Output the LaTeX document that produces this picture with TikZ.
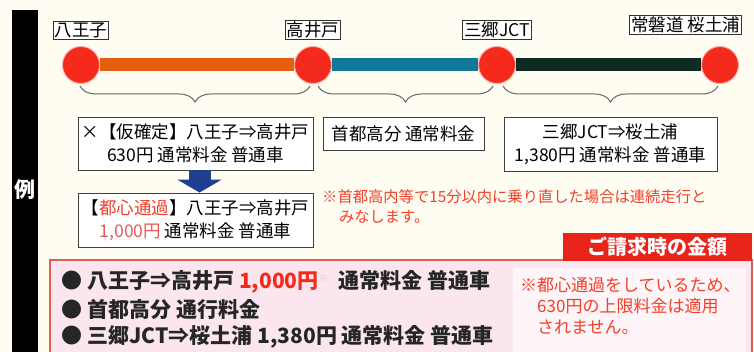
\documentclass[tikz,border=0pt]{standalone}
\usepackage{fontspec}
\usepackage{tikz}
\usetikzlibrary{positioning,decorations.pathreplacing,arrows.meta}
\setmainfont{Noto Sans CJK JP}

\definecolor{cream}{HTML}{FFFDF2}
\definecolor{stnred}{HTML}{F42A1C}
\definecolor{lineor}{HTML}{E4600E}
\definecolor{lineteal}{HTML}{11789A}
\definecolor{linedark}{HTML}{0E2A22}
\definecolor{arrblue}{HTML}{1E3F8F}
\definecolor{notered}{HTML}{F0402A}
\definecolor{tabred}{HTML}{E8231A}
\definecolor{pinkfill}{HTML}{FBE6EF}
\definecolor{pinkline}{HTML}{E0604A}
\definecolor{softred}{HTML}{E85A5A}

\tikzset{
  stn/.style={draw=black!80, fill=white, line width=0.8pt, inner sep=1.5pt, font=\fontsize{17.5}{19}\selectfont},
  dot/.style={circle, fill=stnred, draw=stnred!40, line width=1pt, minimum size=37pt, inner sep=0pt},
  seg/.style={line width=13pt},
  brc/.style={decorate, decoration={brace, mirror, amplitude=16pt}, draw=black!60, line width=1pt},
  info/.style={draw=black!75, fill=white, line width=0.9pt, align=center, inner sep=1pt, font=\fontsize{17.5}{23}\selectfont},
  bul/.style={anchor=west, font=\fontsize{21}{22}\selectfont\bfseries, text=black!85}
}

\begin{document}
\begin{tikzpicture}[x=1pt, y=-1pt]
\useasboundingbox (0,0) rectangle (754,352);
\fill[cream] (0,0) rectangle (754,352);
\fill[black] (12,10) rectangle (38,352);
\node[text=white, font=\fontsize{21}{21}\selectfont\bfseries] (rei) at (25,190) {例};

\node[dot] (hach) at (81,65) {};
\node[dot] (taka) at (313,65) {};
\node[dot] (misa) at (497,65) {};
\node[dot] (saku) at (720,65) {};

\draw[seg, lineor] (hach) -- (taka);
\draw[seg, lineteal] (taka) -- (misa);
\draw[seg, linedark] (misa) -- (saku);

\node[stn, above=6pt of hach] (lhach) {八王子};
\node[stn, above=6pt of taka] (ltaka) {高井戸};
\node[stn, above=6pt of misa] (lmisa) {三郷JCT};
\node[stn, anchor=east] (lsaku) at (742,25) {常磐道 桜土浦};

\draw[brc] ([xshift=-1pt,yshift=-2pt]hach.south) -- ([xshift=-3pt,yshift=-2pt]taka.south);
\draw[brc] ([xshift=5pt,yshift=-2pt]taka.south) -- ([xshift=-4pt,yshift=-2pt]misa.south);
\draw[brc] ([xshift=6pt,yshift=-2pt]misa.south) -- ([xshift=-2pt,yshift=-2pt]saku.south);

\node[info, minimum width=235pt, minimum height=53pt] (kari) at (195.5,143.5)
  {×【仮確定】八王子⇒高井戸\\630円 通常料金 普通車};
\node[info, minimum width=161pt, minimum height=33pt] (shuto) at (403.5,133.5)
  {首都高分 通常料金};
\node[info, minimum width=213pt, minimum height=54pt] (joban) at (610.5,144)
  {三郷JCT⇒桜土浦\\1,380円 通常料金 普通車};
\node[info, minimum width=235pt, minimum height=54pt] (toshin) at (195.5,220)
  {【\textcolor{notered}{都心通過}】八王子⇒高井戸\\\textcolor{softred}{1,000円} 通常料金 普通車};

\draw[arrblue, line width=22pt, -{Triangle[width=44pt,length=13pt]}]
  ([xshift=4pt]kari.south) -- ([xshift=4pt]toshin.north);

\node[anchor=north west, align=left, text=notered, inner sep=0pt,
  font=\fontsize{15.3}{20.5}\selectfont] (renzoku) at (322,189)
  {※首都高内等で15分以内に乗り直した場合は連続走行と\\\hspace{1.1em}みなします。};

\draw[pinkline, fill=pinkfill, line width=1.2pt] (50,260) rectangle (752,362);
\fill[tabred] (563,233) rectangle (752,261);
\node[text=white, font=\fontsize{20}{20}\selectfont\bfseries] (seikyu) at (657.5,247) {ご請求時の金額};

\fill[white, opacity=0.6] (513,268) rectangle (746,352);
\node[anchor=north west, align=left, text=notered, inner sep=0pt,
  font=\fontsize{17}{21}\selectfont] (tekiyo) at (520,277)
  {※都心通過をしているため、\\\hspace{1em}630円の上限料金は適用\\\hspace{1em}されません。};

\node[bul] (row1) at (58,282)
  {● 八王子⇒高井戸 \textcolor{stnred}{1,000円}\raisebox{0.5ex}{\fontsize{10}{10}\selectfont\textcolor{pink}{※}}\ \ 通常料金 普通車};
\node[bul] (row2) at (58,310) {● 首都高分 通行料金};
\node[bul] (row3) at (58,337) {● 三郷JCT⇒桜土浦 1,380円 通常料金 普通車};
\end{tikzpicture}
\end{document}
